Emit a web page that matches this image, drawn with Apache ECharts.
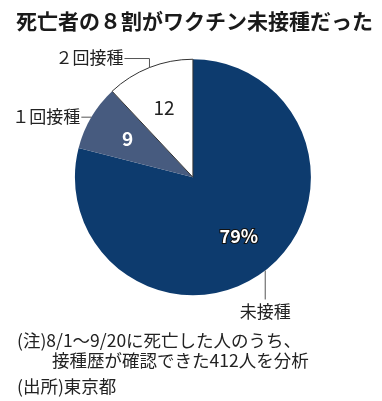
<!DOCTYPE html>
<html><head><meta charset="utf-8">
<script src="https://cdn.jsdelivr.net/npm/echarts@6/dist/echarts.min.js"></script>
<style>html,body{margin:0;padding:0;background:#fff}#c{width:382px;height:401px}</style>
</head><body><div id="c"></div>
<script>
const title = '死亡者の８割がワクチン未接種だった';
const categories = ['未接種', '１回接種', '２回接種'];
const values = [79, 9, 12];
const valueLabels = ['79%', '9', '12'];
const colors = ['#0d3b6e', '#475b7f', '#ffffff'];
const notes = ['(注)8/1～9/20に死亡した人のうち、', '　　接種歴が確認できた412人を分析', '(出所)東京都'];

const FONT = '"Noto Sans CJK JP", "Noto Sans", sans-serif';
const center = ['50.5%', '44.2%'];
const radius = 118;

const chart = echarts.init(document.getElementById('c'), null, {renderer: 'canvas'});
const baseData = categories.map((c, i) => ({name: c, value: values[i]}));

const innerShift = [[8, 10], [-12, -7], [-6, -12]];
const innerLabelStyle = [
  {color: '#fff', textBorderColor: '#111', textBorderWidth: 2, fontWeight: 'bold', fontSize: 18},
  {color: '#fff', fontWeight: 'bold', fontSize: 19},
  {color: '#222', fontSize: 19}
];

chart.setOption({
  animation: false,
  title: {
    text: title, left: 11, top: 6,
    textStyle: {fontFamily: FONT, fontSize: 21, fontWeight: 'bold', color: '#1a1a1a'}
  },
  graphic: notes.map((t, i) => ({
    type: 'text', left: 17, top: [332, 352, 378][i],
    style: {text: t, font: '17.5px ' + FONT, fill: '#222'}
  })),
  series: [
    {
      type: 'pie', center: center, radius: radius, startAngle: 90, clockwise: true,
      silent: true,
      data: baseData.map((d, i) => ({
        name: d.name, value: d.value,
        itemStyle: {color: colors[i], borderColor: i === 2 ? '#333' : colors[i], borderWidth: i === 2 ? 1 : 0},
        label: innerLabelStyle[i]
      })),
      label: {
        position: 'inside',
        formatter: p => valueLabels[p.dataIndex],
        fontFamily: FONT
      },
      labelLayout: p => ({dx: innerShift[p.dataIndex][0], dy: innerShift[p.dataIndex][1]}),
      labelLine: {show: false}
    },
    {
      type: 'pie', center: center, radius: radius, startAngle: 90, clockwise: true,
      silent: true, z: 3,
      data: baseData.map(d => ({name: d.name, value: d.value, itemStyle: {color: 'rgba(0,0,0,0)'}})),
      label: {
        position: 'outside', formatter: '{b}', overflow: 'none',
        fontFamily: FONT, fontSize: 17, color: '#222'
      },
      labelLine: {show: true, length: 8, length2: 10, lineStyle: {color: '#555', width: 1}},
      labelLayout: function (p) {
        const pts = p.labelLinePoints;
        if (!pts) return {};
        const a = pts[0];
        const i = p.dataIndex;
        if (i === 0) {
          const b = [a[0], a[1] + 29];
          return {x: a[0], y: b[1] + 4, align: 'center', verticalAlign: 'top', labelLinePoints: [a, b, b]};
        } else if (i === 1) {
          const b = [a[0] - 10, a[1]];
          return {x: b[0] - 1, y: b[1] - 1, align: 'right', verticalAlign: 'middle', labelLinePoints: [a, b, b]};
        } else {
          const b = [a[0], a[1] - 9];
          const c = [b[0] - 25, b[1]];
          return {x: c[0] - 1, y: c[1] - 1, align: 'right', verticalAlign: 'middle', labelLinePoints: [a, b, c]};
        }
      }
    }
  ]
});
</script></body></html>
